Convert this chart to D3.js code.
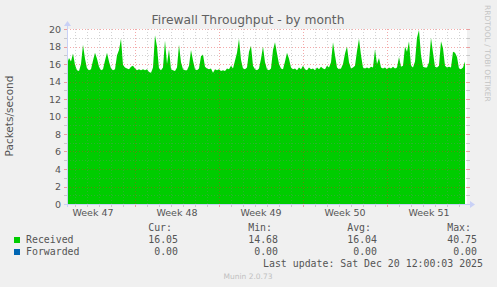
<!DOCTYPE html>
<html>
<head>
<meta charset="utf-8">
<script src="https://cdn.jsdelivr.net/npm/d3@7"></script>
<style>
  body { margin: 0; background: #f0f0f0; }
  svg { display: block; }
</style>
</head>
<body>
<svg id="chart" width="497" height="287"></svg>
<script>
// Graph end and resolution (munin month graph: 400 px, 2 h per px)
var endTime = Date.UTC(2025, 11, 20, 16, 0);
var startTime = endTime - 800 * 3600 * 1000;
var stepHours = 4;

// Received packets/second, one value every 4 hours
var received = [
  16.0,16.7,16.3,17.2,15.9,15.3,15.2,16.0,18.2,16.6,
  15.5,15.3,15.4,16.4,17.3,16.6,15.7,15.3,15.4,16.4,
  17.3,16.3,15.5,15.3,15.4,17.0,17.6,18.9,15.9,15.6,
  15.5,15.4,15.7,15.8,15.5,15.3,15.4,15.3,15.4,15.3,
  15.4,15.1,15.0,15.6,19.3,18.0,15.5,15.3,15.6,18.7,
  16.0,17.7,15.4,15.3,15.2,15.6,18.2,16.2,15.4,15.3,
  15.3,15.8,17.6,16.4,15.4,15.3,15.5,16.9,17.1,15.7,
  15.5,15.4,15.5,15.0,15.4,15.3,15.4,15.2,15.3,15.2,
  15.5,15.4,15.8,15.5,16.4,17.3,18.9,16.5,15.5,15.4,
  15.6,17.4,18.1,15.8,15.4,15.3,15.5,16.6,18.0,16.2,
  15.4,15.3,15.5,17.6,18.5,17.2,16.0,15.5,15.4,16.3,
  17.3,16.6,15.6,15.4,15.5,15.3,15.6,15.4,15.8,15.4,
  15.3,15.6,15.4,15.5,15.3,15.6,15.4,15.7,15.5,15.4,
  15.8,15.6,16.2,18.5,17.0,15.6,15.4,15.5,16.0,17.2,
  18.0,16.2,15.5,15.6,15.8,17.5,18.9,17.0,15.6,15.5,
  15.6,15.5,15.7,15.6,17.7,16.0,16.7,15.6,15.5,15.6,
  15.4,15.6,15.5,15.7,15.5,15.6,16.8,15.7,15.8,18.0,
  17.4,18.6,15.8,15.6,16.3,19.0,19.9,17.0,15.7,15.6,
  15.6,16.2,19.0,17.3,15.7,15.6,15.8,18.6,17.8,15.8,
  15.6,15.7,15.6,17.4,17.3,16.8,15.5,15.4,15.6,16.3
];

var yTicks = [0, 2, 4, 6, 8, 10, 12, 14, 16, 18, 20];

// Legend table
var legendNames = ["Received", "Forwarded"];
var legendColors = ["#00cc00", "#0066b3"];
var legendHeaders = ["Cur:", "Min:", "Avg:", "Max:"];
var legendValues = [
  ["16.05", "14.68", "16.04", "40.75"],
  ["0.00", "0.00", "0.00", "0.00"]
];

var svg = d3.select("#chart");
// graph area box (window.top is reserved, so prefix the names)
var gLeft = 67, gRight = 467, gTop = 29, gBottom = 204;

var x = d3.scaleUtc().domain([startTime, endTime]).range([gLeft, gRight]);
var y = d3.scaleLinear().domain([0, 20]).range([gBottom, gTop]);

var textColor = "#555";
var minorColor = "rgba(130,130,130,0.35)";
var majorColor = "rgba(225,40,40,0.4)";
var axisColor = "#c9d1f6";

// Canvas
svg.append("rect").attr("width", 497).attr("height", 287).attr("fill", "#f0f0f0");
svg.append("rect")
  .attr("x", gLeft).attr("y", gTop)
  .attr("width", gRight - gLeft).attr("height", gBottom - gTop)
  .attr("fill", "#fff");

// Received area
var points = received.map(function(v, i) {
  return { t: startTime + i * stepHours * 3600 * 1000, v: v };
});
var area = d3.area()
  .x(function(d) { return x(d.t); })
  .y0(y(0))
  .y1(function(d) { return y(d.v); });
svg.append("path")
  .datum(points)
  .attr("fill", "#00cc00")
  .attr("d", area);

// Horizontal grid (drawn over the area, like rrdtool)
var grid = svg.append("g").attr("shape-rendering", "crispEdges");
d3.range(1, 21).forEach(function(v) {
  var major = v % 2 === 0;
  var c = major ? majorColor : minorColor;
  var yy = Math.round(y(v)) + 0.5;
  grid.append("line")
    .attr("x1", gLeft).attr("x2", gRight).attr("y1", yy).attr("y2", yy)
    .attr("stroke", c).attr("stroke-dasharray", "1,2");
  grid.append("line")
    .attr("x1", gLeft - 3).attr("x2", gLeft).attr("y1", yy).attr("y2", yy)
    .attr("stroke", c);
  grid.append("line")
    .attr("x1", gRight).attr("x2", gRight + 3).attr("y1", yy).attr("y2", yy)
    .attr("stroke", c);
});

// Vertical grid: days minor, week starts (Sunday) major
d3.utcDay.range(startTime, endTime).forEach(function(d) {
  var major = d.getUTCDay() === 0;
  var c = major ? majorColor : minorColor;
  var xx = Math.round(x(d)) + 0.5;
  grid.append("line")
    .attr("x1", xx).attr("x2", xx).attr("y1", gTop).attr("y2", gBottom)
    .attr("stroke", c).attr("stroke-dasharray", "1,2");
  grid.append("line")
    .attr("x1", xx).attr("x2", xx).attr("y1", gBottom).attr("y2", gBottom + 3)
    .attr("stroke", c);
});

// Axes with arrows
svg.append("line")
  .attr("x1", gLeft - 3).attr("x2", gRight + 4).attr("y1", gBottom + 0.5).attr("y2", gBottom + 0.5)
  .attr("stroke", axisColor);
svg.append("line")
  .attr("x1", gLeft + 0.5).attr("x2", gLeft + 0.5).attr("y1", gBottom + 3).attr("y2", gTop - 5)
  .attr("stroke", axisColor);
svg.append("path")
  .attr("d", "M" + (gRight + 3) + "," + (gBottom - 3) + "L" + (gRight + 8) + "," + (gBottom + 0.5) +
    "L" + (gRight + 3) + "," + (gBottom + 4) + "Z")
  .attr("fill", axisColor);
svg.append("path")
  .attr("d", "M" + (gLeft - 3) + "," + (gTop - 3) + "L" + (gLeft + 0.5) + "," + (gTop - 8) +
    "L" + (gLeft + 4) + "," + (gTop - 3) + "Z")
  .attr("fill", axisColor);

// Y tick labels
svg.append("g").selectAll("text")
  .data(yTicks)
  .enter().append("text")
  .attr("x", 61)
  .attr("y", function(d) { return y(d) + 3.5; })
  .attr("text-anchor", "end")
  .attr("font-family", "DejaVu Sans")
  .attr("font-size", "9.5px")
  .attr("fill", textColor)
  .text(function(d) { return d; });

// Week labels, centred in the middle of each week
var weekFmt = d3.utcFormat("%V");
var weekStarts = d3.utcSunday.range(startTime - 7 * 86400000, endTime);
svg.append("g").selectAll("text")
  .data(weekStarts.map(function(d) { return new Date(+d + 3.5 * 86400000); })
    .filter(function(d) { return x(d) > gLeft && x(d) < gRight; }))
  .enter().append("text")
  .attr("x", function(d) { return x(d); })
  .attr("y", 216)
  .attr("text-anchor", "middle")
  .attr("font-family", "DejaVu Sans")
  .attr("font-size", "9.5px")
  .attr("fill", textColor)
  .text(function(d) { return "Week " + weekFmt(d); });

// Title, axis label and watermark
svg.append("text")
  .attr("x", 248).attr("y", 24)
  .attr("text-anchor", "middle")
  .attr("font-family", "DejaVu Sans")
  .attr("font-size", "12.3px")
  .attr("fill", "#606060")
  .text("Firewall Throughput - by month");

svg.append("text")
  .attr("transform", "translate(13,116) rotate(-90)")
  .attr("text-anchor", "middle")
  .attr("font-family", "DejaVu Sans")
  .attr("font-size", "10.5px")
  .attr("fill", textColor)
  .text("Packets/second");

svg.append("text")
  .attr("transform", "translate(485,5) rotate(90)")
  .attr("text-anchor", "start")
  .attr("font-family", "DejaVu Sans")
  .attr("font-size", "7.5px")
  .attr("fill", "#c4c4c4")
  .text("RRDTOOL / TOBI OETIKER");

// Legend
var mono = "DejaVu Sans Mono";
var colEnds = [178, 278, 377, 477];
var legend = svg.append("g")
  .attr("font-family", mono)
  .attr("font-size", "9.9px")
  .attr("fill", textColor);

legendHeaders.forEach(function(h, i) {
  legend.append("text")
    .attr("x", colEnds[i] - 6).attr("y", 231)
    .attr("text-anchor", "end")
    .text(h);
});

legendNames.forEach(function(name, r) {
  var yy = 243 + r * 12;
  legend.append("rect")
    .attr("x", 14).attr("y", yy - 6).attr("width", 6).attr("height", 6)
    .attr("fill", legendColors[r]);
  legend.append("text")
    .attr("x", 26).attr("y", yy)
    .text(name);
  legendValues[r].forEach(function(v, i) {
    legend.append("text")
      .attr("x", colEnds[i]).attr("y", yy)
      .attr("text-anchor", "end")
      .text(v);
  });
});

legend.append("text")
  .attr("x", 483).attr("y", 267)
  .attr("text-anchor", "end")
  .text("Last update: Sat Dec 20 12:00:03 2025");

svg.append("text")
  .attr("x", 248).attr("y", 279)
  .attr("text-anchor", "middle")
  .attr("font-family", "DejaVu Sans")
  .attr("font-size", "7.5px")
  .attr("fill", "#c0c0c0")
  .text("Munin 2.0.73");
</script>
</body>
</html>
